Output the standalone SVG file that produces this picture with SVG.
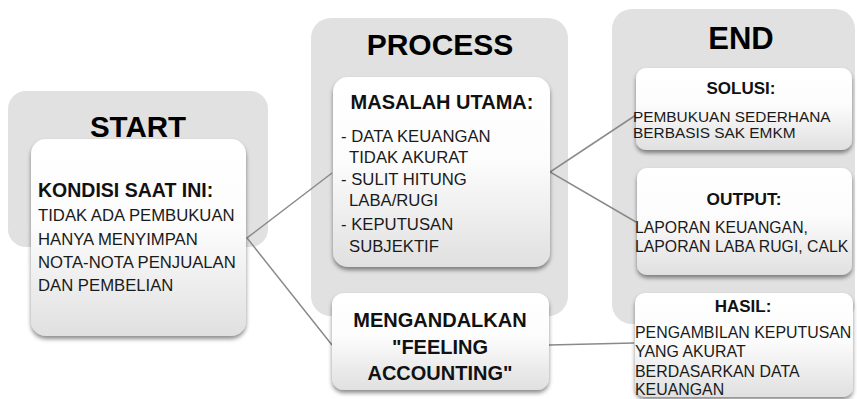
<svg xmlns="http://www.w3.org/2000/svg" width="857" height="399" viewBox="0 0 857 399">
<defs>
<linearGradient id="nodeGrad" x1="0" y1="0" x2="0" y2="1">
<stop offset="0" stop-color="#ffffff"/>
<stop offset="0.45" stop-color="#fcfcfc"/>
<stop offset="1" stop-color="#e0e0e0"/>
</linearGradient>
<filter id="shadow" x="-10%" y="-10%" width="125%" height="130%">
<feDropShadow dx="0" dy="3" stdDeviation="2" flood-color="#000000" flood-opacity="0.45"/>
</filter>
</defs>
<style>
.bg{fill:#e1e1e1;}
.node{fill:url(#nodeGrad);filter:url(#shadow);}
.title{font-family:"Liberation Sans",Arial,sans-serif;font-weight:bold;fill:#000;text-anchor:middle;}
.head{font-family:"Liberation Sans",Arial,sans-serif;font-weight:bold;fill:#111;}
.body{font-family:"Liberation Sans",Arial,sans-serif;fill:#1a1a1a;}
.conn{stroke:#8a8a8a;stroke-width:1.5;fill:none;}
</style>
<g id="bg-start"><rect class="bg" x="8" y="91" width="260" height="156" rx="18"/>
<text class="title" x="138" y="137" font-size="29.5">START</text></g>
<g id="bg-process"><rect class="bg" x="311" y="18" width="257" height="298" rx="20"/>
<text class="title" x="440" y="55" font-size="30">PROCESS</text></g>
<g id="bg-end"><rect class="bg" x="612" y="9" width="243" height="315" rx="20"/>
<text class="title" x="741" y="49" font-size="31">END</text></g>
<g id="connectors">
<polyline class="conn" points="332,173 247,238 332,345"/>
<polyline class="conn" points="636,115 550,172 636,222"/>
<line class="conn" x1="549" y1="345" x2="634" y2="343"/>
</g>
<g id="kondisi"><rect class="node" x="31" y="139" width="215" height="197" rx="15"/>
<text class="head" x="38" y="197" font-size="19.5">KONDISI SAAT INI:</text>
<text class="body" font-size="16.7"><tspan x="38" y="221">TIDAK ADA PEMBUKUAN</tspan><tspan x="38" y="245">HANYA MENYIMPAN</tspan><tspan x="38" y="268">NOTA-NOTA PENJUALAN</tspan><tspan x="38" y="291">DAN PEMBELIAN</tspan></text></g>
<g id="masalah"><rect class="node" x="333" y="77" width="217" height="190" rx="15"/>
<text class="head" x="442" y="109" font-size="20" text-anchor="middle">MASALAH UTAMA:</text>
<text class="body" font-size="16.7"><tspan x="341" y="142">- DATA KEUANGAN</tspan><tspan x="349" y="163">TIDAK AKURAT</tspan><tspan x="341" y="185">- SULIT HITUNG</tspan><tspan x="349" y="206">LABA/RUGI</tspan><tspan x="341" y="230">- KEPUTUSAN</tspan><tspan x="349" y="252">SUBJEKTIF</tspan></text></g>
<g id="mengandalkan"><rect class="node" x="332" y="293" width="217" height="97" rx="12"/>
<text class="head" font-size="20" text-anchor="middle"><tspan x="440" y="327">MENGANDALKAN</tspan><tspan x="440" y="354">"FEELING</tspan><tspan x="440" y="380">ACCOUNTING"</tspan></text></g>
<g id="solusi"><rect class="node" x="636" y="68" width="216" height="82" rx="10"/>
<text class="head" x="741" y="94" font-size="17" text-anchor="middle">SOLUSI:</text>
<text class="body" font-size="15.4"><tspan x="633" y="122">PEMBUKUAN SEDERHANA</tspan><tspan x="633" y="138">BERBASIS SAK EMKM</tspan></text></g>
<g id="output"><rect class="node" x="637" y="168" width="215" height="107" rx="10"/>
<text class="head" x="744" y="205" font-size="17.3" text-anchor="middle">OUTPUT:</text>
<text class="body" font-size="15.8"><tspan x="635" y="233">LAPORAN KEUANGAN,</tspan><tspan x="635" y="252">LAPORAN LABA RUGI, CALK</tspan></text></g>
<g id="hasil"><rect class="node" x="635" y="293" width="218" height="104" rx="10"/>
<text class="head" x="743" y="312" font-size="17" text-anchor="middle">HASIL:</text>
<text class="body" font-size="15.9"><tspan x="635" y="338">PENGAMBILAN KEPUTUSAN</tspan><tspan x="635" y="357">YANG AKURAT</tspan><tspan x="635" y="377">BERDASARKAN DATA</tspan><tspan x="635" y="395">KEUANGAN</tspan></text></g>
</svg>
